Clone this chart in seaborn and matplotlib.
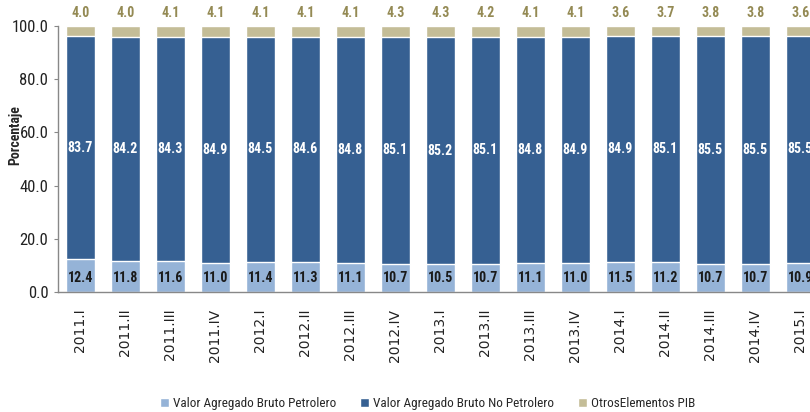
import matplotlib
matplotlib.use("Agg")
import matplotlib.pyplot as plt
from matplotlib import font_manager
import seaborn as sns
import pandas as pd

periodos = ['2011.I', '2011.II', '2011.III', '2011.IV', '2012.I', '2012.II', '2012.III', '2012.IV',
            '2013.I', '2013.II', '2013.III', '2013.IV', '2014.I', '2014.II', '2014.III', '2014.IV', '2015.I']
petrolero = [12.4, 11.8, 11.6, 11.0, 11.4, 11.3, 11.1, 10.7, 10.5, 10.7, 11.1, 11.0, 11.5, 11.2, 10.7, 10.7, 10.9]
no_petrolero = [83.7, 84.2, 84.3, 84.9, 84.5, 84.6, 84.8, 85.1, 85.2, 85.1, 84.8, 84.9, 84.9, 85.1, 85.5, 85.5, 85.5]
otros = [4.0, 4.0, 4.1, 4.1, 4.1, 4.1, 4.1, 4.3, 4.3, 4.2, 4.1, 4.1, 3.6, 3.7, 3.8, 3.8, 3.6]

# buscar una fuente estrecha
fonts = font_manager.fontManager.ttflist
names = {f.name for f in fonts}
stretch = 'normal'
k = 1.0
if 'Liberation Sans Narrow' in names:
    narrow = 'Liberation Sans Narrow'
elif 'Roboto Condensed' in names:
    narrow = 'Roboto Condensed'
elif any(f.name == 'DejaVu Sans' and f.stretch == 'condensed' for f in fonts):
    narrow = 'DejaVu Sans'
    stretch = 'condensed'
    k = 0.92
else:
    narrow = 'DejaVu Sans'
    k = 0.82

sns.set_style('white')
plt.rcParams['font.family'] = [narrow, 'DejaVu Sans']
plt.rcParams['font.stretch'] = stretch

c_pet = '#95B3D7'
c_nopet = '#366092'
c_otros = '#C4BD97'

df = pd.DataFrame({'periodo': periodos, 'pet': petrolero, 'nopet': no_petrolero, 'otros': otros})
df['tope_nopet'] = df['pet'] + df['nopet']
df['tope'] = df['tope_nopet'] + df['otros']

fig = plt.figure(figsize=(8.1, 4.12), dpi=100)
ax = fig.add_axes([0.0716, 0.291, 0.944, 0.646])

sns.barplot(data=df, x='periodo', y='tope', color=c_otros, saturation=1, width=0.64,
            errorbar=None, label='OtrosElementos PIB', ax=ax)
sns.barplot(data=df, x='periodo', y='tope_nopet', color=c_nopet, saturation=1, width=0.64,
            errorbar=None, label='Valor Agregado Bruto No Petrolero', ax=ax)
sns.barplot(data=df, x='periodo', y='pet', color=c_pet, saturation=1, width=0.64,
            errorbar=None, label='Valor Agregado Bruto Petrolero', ax=ax)

fs_val = 10 * k
for i, row in df.iterrows():
    ax.text(i, 5.3, f"{row['pet']:.1f}", ha='center', va='center', fontsize=fs_val,
            fontweight='bold', color='#1a1a1a')
    ax.text(i, row['pet'] + row['nopet'] / 2, f"{row['nopet']:.1f}", ha='center', va='center',
            fontsize=fs_val, fontweight='bold', color='white')
    ax.text(i, 105, f"{row['otros']:.1f}", ha='center', va='center', fontsize=fs_val,
            fontweight='bold', color='#948A54', clip_on=False)

ax.set_xlim(-0.5, 16.5)
ax.set_ylim(0, 100)
ax.set_yticks([0, 20, 40, 60, 80, 100])
ax.set_yticklabels([f"{v:.1f}" for v in [0, 20, 40, 60, 80, 100]], fontsize=12 * k, color='#222222')
ax.set_xticks(range(len(periodos)))
ax.set_xticklabels(periodos, rotation=90, fontsize=10, family='DejaVu Sans', stretch='normal',
                   color='#222222')
ax.tick_params(axis='y', length=3, width=0.8, color='#888888', pad=4, left=True)
ax.tick_params(axis='x', length=0, pad=12)
ax.set_xlabel('')
ax.set_ylabel('Porcentaje', fontsize=10 * k, fontweight='bold')
ax.yaxis.set_label_coords(-0.047, 0.59)
for s in ['top', 'right']:
    ax.spines[s].set_visible(False)
for s in ['left', 'bottom']:
    ax.spines[s].set_color('#888888')
    ax.spines[s].set_linewidth(1)

h, l = ax.get_legend_handles_labels()
order = [2, 1, 0]
ax.legend([h[j] for j in order], [l[j] for j in order], loc='lower center',
          bbox_to_anchor=(0.528, -0.025), bbox_transform=fig.transFigure, ncol=3,
          frameon=False, fontsize=9.5 * k, handlelength=0.7, handleheight=0.7,
          handletextpad=0.3, columnspacing=1.8)

fig.savefig('out.png', dpi=100)
